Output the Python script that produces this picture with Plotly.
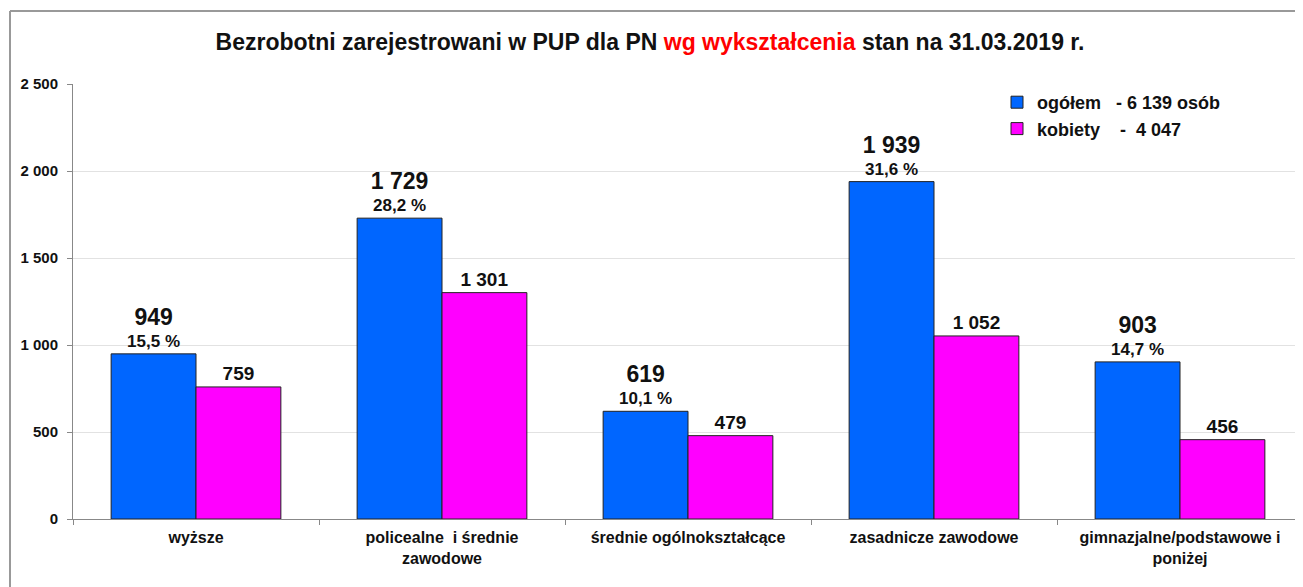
import plotly.graph_objects as go

categories = ["wyższe", "policealne  i średnie<br>zawodowe", "średnie ogólnokształcące",
              "zasadnicze zawodowe", "gimnazjalne/podstawowe i<br>poniżej"]
ogolem = [949, 1729, 619, 1939, 903]
ogolem_pct = ["15,5 %", "28,2 %", "10,1 %", "31,6 %", "14,7 %"]
kobiety = [759, 1301, 479, 1052, 456]
ytick_vals = [0, 500, 1000, 1500, 2000, 2500]
ytick_text = ["0", "500", "1 000", "1 500", "2 000", "2 500"]

def fmt(v):
    return f"{v:,}".replace(",", " ")

FONT = "Liberation Sans, Arial, sans-serif"
OFF = 8  # page body margin

W, H = 1303 - OFF, 587 - OFF
L, T = 73 - OFF, 84 - OFF
B = H - (519 - OFF)
pw = W - L
ph = H - T - B

def px_x(x):
    return (x - OFF - L) / pw

def px_y(y):
    return (H - B - (y - OFF)) / ph

fig = go.Figure()
fig.add_trace(go.Bar(
    x=categories, y=ogolem,
    name="<b>ogółem&nbsp;&nbsp;&nbsp;- 6 139 osób</b>",
    marker=dict(color="#0066FF", line=dict(color="#222222", width=1)),
    text=[f"<b><span style='font-size:23px'>{fmt(v)}</span><br>{p}</b>" for v, p in zip(ogolem, ogolem_pct)],
    textposition="outside", constraintext="none", cliponaxis=False,
    textfont=dict(family=FONT, size=17, color="#111111"),
    hoverinfo="skip",
))
fig.add_trace(go.Bar(
    x=categories, y=kobiety,
    name="<b>kobiety&nbsp;&nbsp;&nbsp;&nbsp;-&nbsp;&nbsp;4 047</b>",
    marker=dict(color="#FF00FF", line=dict(color="#222222", width=1)),
    text=[f"<b>{fmt(v)}</b>" for v in kobiety],
    textposition="outside", constraintext="none", cliponaxis=False,
    textfont=dict(family=FONT, size=19, color="#111111"),
    hoverinfo="skip",
))

fig.update_layout(
    width=W, height=H,
    margin=dict(l=L, r=0, t=T, b=B, pad=0),
    paper_bgcolor="white", plot_bgcolor="white",
    barmode="group", bargap=0.31, bargroupgap=0,
    font=dict(family=FONT, color="#111111"),
    title=dict(
        text="<b>Bezrobotni zarejestrowani w PUP dla PN <span style='color:#FF0000'>wg wykształcenia</span> stan na 31.03.2019 r.</b>",
        x=px_x(650), xref="paper", xanchor="center", y=1 - (42 - OFF) / H, yanchor="middle",
        font=dict(family=FONT, size=23, color="#111111"),
    ),
    showlegend=True,
    legend=dict(
        x=px_x(997), y=px_y(84), xanchor="left", yanchor="top",
        font=dict(family=FONT, size=18, color="#111111"),
        bgcolor="rgba(0,0,0,0)", itemwidth=30, tracegroupgap=0,
    ),
    xaxis=dict(
        showline=True, linecolor="#888888", linewidth=1,
        ticks="outside", tickson="boundaries", ticklen=5, tickcolor="#888888",
        tickfont=dict(family=FONT, size=16, color="#111111"),
        ticklabelstandoff=4,
        showgrid=False,
    ),
    yaxis=dict(
        range=[0, 2500], tickvals=ytick_vals, ticktext=[f"<b>{t}</b>" for t in ytick_text],
        showline=True, linecolor="#888888", linewidth=1,
        ticks="outside", ticklen=5, tickcolor="#888888",
        tickfont=dict(family=FONT, size=15, color="#111111"),
        ticklabelstandoff=6,
        showgrid=True, gridcolor="#E2E2E2", gridwidth=1, zeroline=False,
    ),
)
fig.update_xaxes(tickprefix="<b>", ticksuffix="</b>")

# outer frame (top and left edges visible)
fig.add_shape(type="line", xref="paper", yref="paper",
              x0=px_x(10), x1=px_x(1310), y0=px_y(11), y1=px_y(11),
              line=dict(color="#999999", width=2))
fig.add_shape(type="line", xref="paper", yref="paper",
              x0=px_x(10), x1=px_x(10), y0=px_y(11), y1=px_y(600),
              line=dict(color="#999999", width=2))

fig.write_html("out.html")
